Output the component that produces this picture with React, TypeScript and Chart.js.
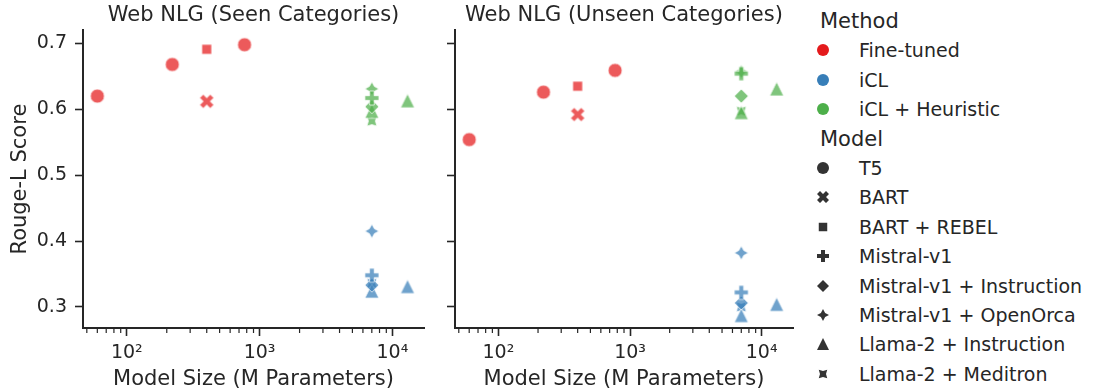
import React, { useEffect, useRef } from "react";
import { Chart, registerables } from "chart.js";

Chart.register(...registerables);

const FONT = "'DejaVu Sans', sans-serif";
const TEXT = "#262626";

// ---- categories ----
const methods = ["Fine-tuned", "iCL", "iCL + Heuristic"];
const methodRGB = [
  [228, 26, 28],
  [55, 126, 184],
  [77, 175, 74],
];
const models = [
  "T5",
  "BART",
  "BART + REBEL",
  "Mistral-v1",
  "Mistral-v1 + Instruction",
  "Mistral-v1 + OpenOrca",
  "Llama-2 + Instruction",
  "Llama-2 + Meditron",
];
const modelMarkers = ["circle", "x", "square", "plus", "diamond", "star4", "triangle", "star4rot"];

// ---- model sizes (M parameters) ----
const sizeT5 = [60, 220, 770];
const sizeBart = [400];
const size7B = [7000];
const sizeLlamaInstr = [7000, 13000];

// ---- Web NLG (Seen Categories) ----
const seenT5 = [0.62, 0.668, 0.698];
const seenBart = [0.612];
const seenBartRebel = [0.691];
const seenIclMistral = [0.348];
const seenIclMistralInstr = [0.333];
const seenIclMistralOrca = [0.415];
const seenIclLlamaInstr = [0.324, 0.331];
const seenIclLlamaMeditron = [0.336];
const seenHeurMistral = [0.617];
const seenHeurMistralInstr = [0.604];
const seenHeurMistralOrca = [0.631];
const seenHeurLlamaInstr = [0.597, 0.613];
const seenHeurLlamaMeditron = [0.582];

// ---- Web NLG (Unseen Categories) ----
const unseenT5 = [0.554, 0.626, 0.659];
const unseenBart = [0.592];
const unseenBartRebel = [0.635];
const unseenIclMistral = [0.322];
const unseenIclMistralInstr = [0.306];
const unseenIclMistralOrca = [0.382];
const unseenIclLlamaInstr = [0.287, 0.304];
const unseenIclLlamaMeditron = [0.3];
const unseenHeurMistral = [0.654];
const unseenHeurMistralInstr = [0.62];
const unseenHeurMistralOrca = [0.657];
const unseenHeurLlamaInstr = [0.595, 0.631];
const unseenHeurLlamaMeditron = [0.597];

// ---- axes ----
const xMin = 46.8;
const xMax = 17300;
const xMajorTicks = [100, 1000, 10000];
const xMajorLabels = ["10²", "10³", "10⁴"];
const xMinorTicks = [50, 60, 70, 80, 90, 200, 300, 400, 500, 600, 700, 800, 900, 2000, 3000, 4000, 5000, 6000, 7000, 8000, 9000];
const yMin = 0.268;
const yMax = 0.72;
const yTicks = [0.3, 0.4, 0.5, 0.6, 0.7];

type Series = { method: number; model: number; sizes: number[]; values: number[] };

const seenSeries: Series[] = [
  { method: 0, model: 0, sizes: sizeT5, values: seenT5 },
  { method: 0, model: 1, sizes: sizeBart, values: seenBart },
  { method: 0, model: 2, sizes: sizeBart, values: seenBartRebel },
  { method: 1, model: 3, sizes: size7B, values: seenIclMistral },
  { method: 1, model: 4, sizes: size7B, values: seenIclMistralInstr },
  { method: 1, model: 5, sizes: size7B, values: seenIclMistralOrca },
  { method: 1, model: 6, sizes: sizeLlamaInstr, values: seenIclLlamaInstr },
  { method: 1, model: 7, sizes: size7B, values: seenIclLlamaMeditron },
  { method: 2, model: 3, sizes: size7B, values: seenHeurMistral },
  { method: 2, model: 4, sizes: size7B, values: seenHeurMistralInstr },
  { method: 2, model: 5, sizes: size7B, values: seenHeurMistralOrca },
  { method: 2, model: 6, sizes: sizeLlamaInstr, values: seenHeurLlamaInstr },
  { method: 2, model: 7, sizes: size7B, values: seenHeurLlamaMeditron },
];

const unseenSeries: Series[] = [
  { method: 0, model: 0, sizes: sizeT5, values: unseenT5 },
  { method: 0, model: 1, sizes: sizeBart, values: unseenBart },
  { method: 0, model: 2, sizes: sizeBart, values: unseenBartRebel },
  { method: 1, model: 3, sizes: size7B, values: unseenIclMistral },
  { method: 1, model: 4, sizes: size7B, values: unseenIclMistralInstr },
  { method: 1, model: 5, sizes: size7B, values: unseenIclMistralOrca },
  { method: 1, model: 6, sizes: sizeLlamaInstr, values: unseenIclLlamaInstr },
  { method: 1, model: 7, sizes: size7B, values: unseenIclLlamaMeditron },
  { method: 2, model: 3, sizes: size7B, values: unseenHeurMistral },
  { method: 2, model: 4, sizes: size7B, values: unseenHeurMistralInstr },
  { method: 2, model: 5, sizes: size7B, values: unseenHeurMistralOrca },
  { method: 2, model: 6, sizes: sizeLlamaInstr, values: unseenHeurLlamaInstr },
  { method: 2, model: 7, sizes: size7B, values: unseenHeurLlamaMeditron },
];

// ---- marker shapes (matplotlib-like) ----
function starPoints(n: number, inner: number, rotDeg: number): number[][] {
  const pts: number[][] = [];
  for (let k = 0; k < 2 * n; k++) {
    const a = ((90 + rotDeg + (k * 180) / n) * Math.PI) / 180;
    const r = k % 2 === 0 ? 1 : inner;
    pts.push([r * Math.cos(a), r * Math.sin(a)]);
  }
  return pts;
}

function shapePath(ctx: CanvasRenderingContext2D, shape: string, cx: number, cy: number, ms: number) {
  const r = ms / 2;
  ctx.beginPath();
  const poly = (pts: number[][], scale: number) => {
    pts.forEach((p, i) => {
      const x = cx + p[0] * scale;
      const y = cy - p[1] * scale;
      if (i === 0) ctx.moveTo(x, y);
      else ctx.lineTo(x, y);
    });
    ctx.closePath();
  };
  switch (shape) {
    case "circle":
      ctx.arc(cx, cy, r, 0, Math.PI * 2);
      break;
    case "square":
      poly(starPoints(2, 1, 45), r);
      break;
    case "diamond":
      poly(starPoints(2, 1, 0), r);
      break;
    case "triangle":
      poly([[0, 1], [-1, -1], [1, -1]], r);
      break;
    case "plus":
      poly(
        [[-1, -3], [1, -3], [1, -1], [3, -1], [3, 1], [1, 1], [1, 3], [-1, 3], [-1, 1], [-3, 1], [-3, -1], [-1, -1]],
        ms / 6
      );
      break;
    case "x":
      poly(
        [[-1, -2], [0, -1], [1, -2], [2, -1], [1, 0], [2, 1], [1, 2], [0, 1], [-1, 2], [-2, 1], [-1, 0], [-2, -1]],
        ms / 4
      );
      break;
    case "star4":
      poly(starPoints(4, 0.5, 0), r);
      break;
    case "star4rot":
      poly(starPoints(4, 0.5, 45), r);
      break;
  }
}

function makeMarkerCanvas(shape: string, rgb: number[], alpha: number, ms: number, edge: boolean): HTMLCanvasElement {
  const size = Math.ceil(ms + 4);
  const c = document.createElement("canvas");
  c.width = size;
  c.height = size;
  const ctx = c.getContext("2d")!;
  shapePath(ctx, shape, size / 2, size / 2, ms);
  ctx.fillStyle = `rgba(${rgb[0]},${rgb[1]},${rgb[2]},${alpha})`;
  ctx.fill();
  if (edge) {
    ctx.lineWidth = 1;
    ctx.lineJoin = "miter";
    ctx.strokeStyle = `rgba(255,255,255,${alpha})`;
    ctx.stroke();
  }
  return c;
}

const minorTickPlugin = {
  id: "minorTicks",
  afterDraw(chart: any) {
    const s = chart.scales.x;
    const ctx = chart.ctx as CanvasRenderingContext2D;
    ctx.save();
    ctx.strokeStyle = TEXT;
    ctx.lineWidth = 1.2;
    for (const v of xMinorTicks) {
      if (v < s.min || v > s.max) continue;
      const px = s.getPixelForValue(v);
      ctx.beginPath();
      ctx.moveTo(px, s.top);
      ctx.lineTo(px, s.top + 5);
      ctx.stroke();
    }
    ctx.restore();
  },
};

type PanelProps = {
  left: number;
  width: number;
  padRight: number;
  yWidth: number;
  showY: boolean;
  title: string;
  series: Series[];
};

function Panel({ left, width, padRight, yWidth, showY, title, series }: PanelProps) {
  const ref = useRef<HTMLCanvasElement>(null);
  useEffect(() => {
    const datasets = series.map((s) => ({
      label: `${methods[s.method]} / ${models[s.model]}`,
      data: s.sizes.map((x, i) => ({ x, y: s.values[i] })),
      pointStyle: makeMarkerCanvas(modelMarkers[s.model], methodRGB[s.method], 0.72, 14, true),
      pointRadius: 7,
      pointHoverRadius: 7,
      borderWidth: 0,
      backgroundColor: "transparent",
    }));
    const chart = new Chart(ref.current!, {
      type: "scatter",
      data: { datasets },
      plugins: [minorTickPlugin],
      options: {
        animation: false,
        responsive: false,
        maintainAspectRatio: false,
        events: [],
        layout: { padding: { left: 0, right: padRight, top: 0, bottom: 0 } },
        plugins: {
          legend: { display: false },
          tooltip: { enabled: false },
          title: {
            display: true,
            text: title,
            fullSize: false,
            color: TEXT,
            font: { family: FONT, size: 21, weight: "normal" },
            padding: { top: 3, bottom: 2 },
          },
        },
        scales: {
          x: {
            type: "logarithmic",
            min: xMin,
            max: xMax,
            afterBuildTicks: (s: any) => {
              s.ticks = xMajorTicks.map((v) => ({ value: v }));
            },
            afterFit: (s: any) => {
              s.height = 64;
            },
            ticks: {
              autoSkip: false,
              maxRotation: 0,
              padding: 6,
              color: TEXT,
              font: { family: FONT, size: 19 },
              callback: (v: any) => {
                const i = xMajorTicks.indexOf(Number(v));
                return i >= 0 ? xMajorLabels[i] : "";
              },
            },
            grid: {
              drawOnChartArea: false,
              drawTicks: true,
              tickLength: 8,
              tickWidth: 1.6,
              tickColor: TEXT,
            },
            border: { display: true, color: TEXT, width: 2 },
            title: {
              display: true,
              text: "Model Size (M Parameters)",
              color: TEXT,
              font: { family: FONT, size: 21 },
              padding: { top: 0, bottom: 0 },
            },
          },
          y: {
            type: "linear",
            min: yMin,
            max: yMax,
            afterBuildTicks: (s: any) => {
              s.ticks = yTicks.map((v) => ({ value: v }));
            },
            afterFit: (s: any) => {
              s.width = yWidth;
            },
            ticks: {
              display: showY,
              padding: 8,
              color: TEXT,
              font: { family: FONT, size: 19 },
              callback: (v: any) => Number(v).toFixed(1),
            },
            grid: {
              drawOnChartArea: false,
              drawTicks: true,
              tickLength: 8,
              tickWidth: 1.6,
              tickColor: TEXT,
            },
            border: { display: true, color: TEXT, width: 2 },
            title: {
              display: showY,
              text: "Rouge-L Score",
              color: TEXT,
              font: { family: FONT, size: 21 },
              padding: { top: 8, bottom: 0 },
            },
          },
        },
      } as any,
    });
    return () => chart.destroy();
  }, []);
  return (
    <canvas
      ref={ref}
      width={width}
      height={392}
      style={{ position: "absolute", left, top: 0, width, height: 392, display: "block" }}
    />
  );
}

function LegendMarker({ shape, rgb, ms, x, y }: { shape: string; rgb: number[]; ms: number; x: number; y: number }) {
  const ref = useRef<HTMLCanvasElement>(null);
  const size = 20;
  useEffect(() => {
    const c = ref.current!;
    const ctx = c.getContext("2d")!;
    ctx.clearRect(0, 0, size, size);
    shapePath(ctx, shape, size / 2, size / 2, ms);
    ctx.fillStyle = `rgb(${rgb[0]},${rgb[1]},${rgb[2]})`;
    ctx.fill();
  }, []);
  return (
    <canvas
      ref={ref}
      width={size}
      height={size}
      style={{ position: "absolute", left: x - size / 2, top: y - size / 2, width: size, height: size }}
    />
  );
}

const legendTop = 21;
const legendStep = 29.4;
const legendMarkerX = 823;
const legendTextX = 859;
const legendTitleX = 820;
const modelLegendRGB = [51, 51, 51];

function Legend() {
  const rows: React.ReactNode[] = [];
  let row = 0;
  const textStyle = (y: number, size: number, x: number): React.CSSProperties => ({
    position: "absolute",
    left: x,
    top: y - 14,
    height: 28,
    lineHeight: "28px",
    fontSize: size,
    fontFamily: FONT,
    color: TEXT,
    whiteSpace: "nowrap",
  });
  const yOf = (r: number) => legendTop + r * legendStep;
  rows.push(
    <div key="t-method" style={textStyle(yOf(row), 21, legendTitleX)}>
      Method
    </div>
  );
  row++;
  methods.forEach((m, i) => {
    const y = yOf(row);
    rows.push(<LegendMarker key={"mm" + i} shape="circle" rgb={methodRGB[i]} ms={12} x={legendMarkerX} y={y} />);
    rows.push(
      <div key={"mt" + i} style={textStyle(y, 19, legendTextX)}>
        {m}
      </div>
    );
    row++;
  });
  rows.push(
    <div key="t-model" style={textStyle(yOf(row), 21, legendTitleX)}>
      Model
    </div>
  );
  row++;
  models.forEach((m, i) => {
    const y = yOf(row);
    rows.push(<LegendMarker key={"dm" + i} shape={modelMarkers[i]} rgb={modelLegendRGB} ms={12} x={legendMarkerX} y={y} />);
    rows.push(
      <div key={"dt" + i} style={textStyle(y, 19, legendTextX)}>
        {m}
      </div>
    );
    row++;
  });
  return <>{rows}</>;
}

export default function App() {
  return (
    <div
      style={{
        position: "absolute",
        left: 0,
        top: 0,
        width: 1093,
        height: 392,
        background: "#fff",
        overflow: "hidden",
      }}
    >
      <Panel
        left={0}
        width={440}
        padRight={16}
        yWidth={83}
        showY={true}
        title="Web NLG (Seen Categories)"
        series={seenSeries}
      />
      <Panel
        left={440}
        width={360}
        padRight={3}
        yWidth={15}
        showY={false}
        title="Web NLG (Unseen Categories)"
        series={unseenSeries}
      />
      <Legend />
    </div>
  );
}
